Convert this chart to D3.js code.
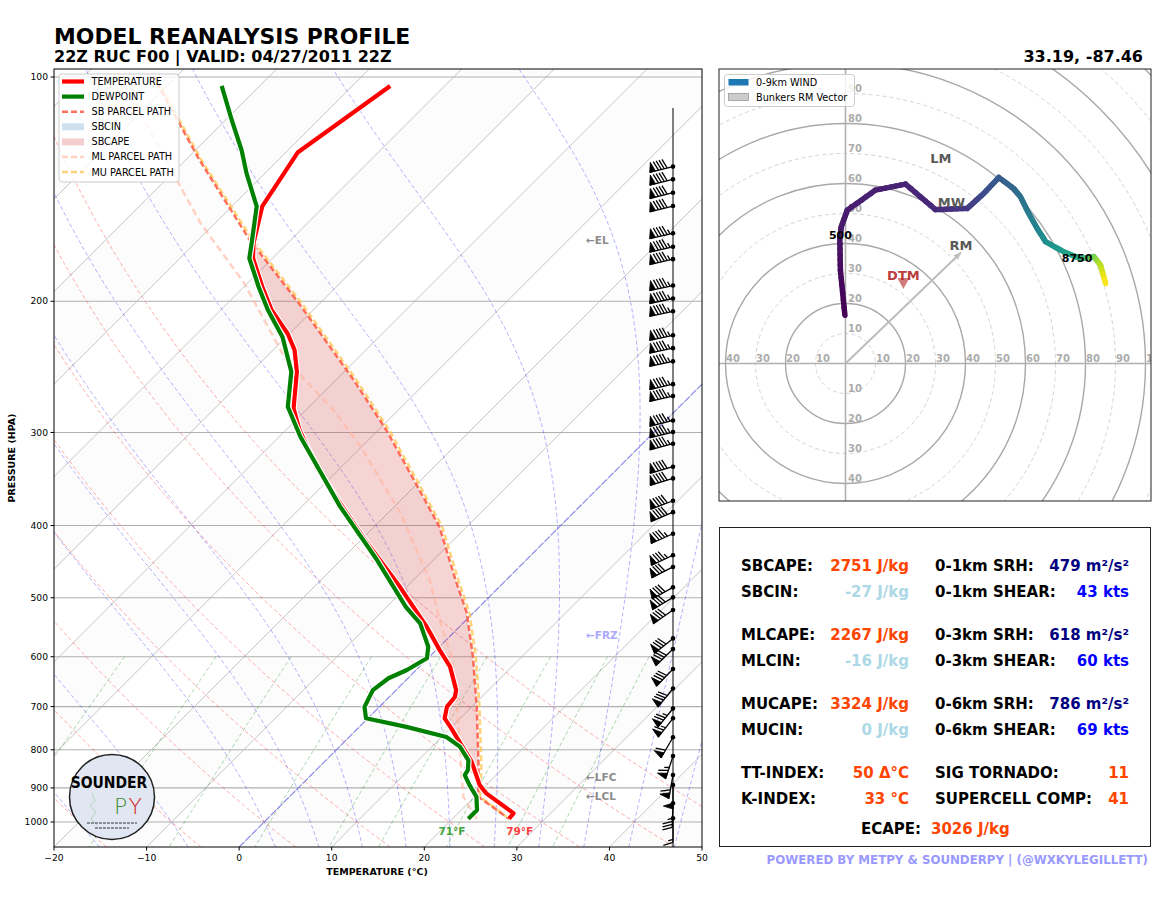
<!DOCTYPE html>
<html><head><meta charset="utf-8">
<script src="https://cdn.jsdelivr.net/npm/d3@7/dist/d3.min.js"></script>
<style>
html,body{margin:0;padding:0;background:#fff;}
svg{display:block;}
text{font-family:"DejaVu Sans",sans-serif;}
</style></head>
<body>
<svg id="chart" width="1175" height="916"></svg>
<script>
// ================= DATA =================
const pressureTicks = [100,200,300,400,500,600,700,800,900,1000];
const temperatureTicks = [-20,-10,0,10,20,30,40,50];

// Environmental temperature profile (hPa, °C)
const tempP = [990,973.5,915.2,892.2,830.0,784.1,748.6,725.8,700.5,679.6,665.3,618.7,587.9,547.2,483.8,422.3,379.4,333.8,297.9,278.5,248.7,232.5,221.1,205.5,190.9,175.1,167.0,149.2,126.3,102.8];
const tempT = [26.1,26.0,20.9,19.3,15.9,12.7,10.1,8.3,7.3,7.1,6.5,3.3,0.4,-3.5,-10.7,-19.0,-25.3,-32.7,-38.5,-41.5,-45.1,-47.7,-50.2,-54.5,-58.1,-62.1,-63.7,-66.7,-68.7,-65.9];

// Dewpoint profile (hPa, °C)
const dewP = [990,963.6,924.8,892.2,864.9,851.8,826.3,792.1,768.8,745.3,725.8,700.5,665.3,641.2,625.1,602.9,581.8,541.3,514.6,445.0,377.0,304.0,277.1,248.7,223.4,205.5,190.9,175.1,167.0,149.2,134.6,125.4,114.3,102.8];
const dewT = [21.7,21.7,20.2,18.2,16.6,16.4,15.4,13.0,10.5,5.1,-0.2,-1.6,-2.5,-2.1,-1.0,-0.1,-1.2,-4.6,-7.9,-16.1,-25.9,-37.7,-42.3,-45.7,-50.4,-54.9,-58.5,-62.5,-63.9,-67.3,-72.0,-75.0,-79.3,-84.1];

// Parcel paths (hPa, °C)
const sbParcelP = [990,925,843,700,600,524,474,402,359,298,280,255,201.5,165,129,115.5,100];
const sbParcelT = [26.1,20.4,17.2,10.5,4.7,-0.7,-5.4,-12.9,-19.0,-29.1,-32.7,-38.1,-52.2,-64.6,-78.6,-84.6,-92.4];
const muParcelP = [990,925,843,700,600,524,474,402,359,298,280,255,201.5,165,129,115.5,100];
const muParcelT = [26.1,20.6,17.5,10.8,5.0,-0.4,-5.1,-12.6,-18.7,-28.8,-32.4,-37.8,-51.9,-64.3,-78.4,-84.4,-92.2];
const mlParcelP = [990,925,878,700,600,540,474,384.5,313,280,240,189,157,100];
const mlParcelT = [22.6,18.8,16.8,8.4,2.4,-2.5,-8.2,-18.7,-30.2,-37.0,-47.5,-60.4,-71.6,-96.0];

// Level markers
const levelNames = ["LCL","LFC","EL","FRZ"];
const levelP = [922.7,870.0,165.5,561.7];
const surfaceLabels = ["71°F","79°F"];

// Wind barbs (hPa, direction deg, speed kt)
const barbP = [988.6,943.8,892.1,864.9,815.7,769.5,725.8,704.1,661.9,623.3,586.0,567.0,519.4,499.4,484.2,454.6,438.5,410.3,383.8,370.5,345.8,333.5,310.6,299.6,289.1,268.1,258.4,240.8,231.2,222.2,206.3,198.3,190.5,175.6,169.0,162.1,149.0,143.0,137.2,131.9];
const barbDir = [180,182,180,190,198,210,218,219,219,224,226,231,235,239,241,243,245,246,247,249,253,254,255,256,256,257,257,258,258,258,258,258,258,257,257,257,256,256,256,256];
const barbSpd = [15,35,50,58,63,59,66,73,80,81,80,79,78,78,80,82,85,86,90,91,91,92,93,94,95,96,96,97,97,96,96,95,95,94,93,93,92,91,90,90];

// Hodograph (height m AGL, u kt, v kt)
const hodoH = [0,200,500,600,700,800,900,1000,1500,2000,2500,3000,3300,3700,4000,4400,5000,5600,7000,8000,9000];
const hodoU = [-0.2,-1.7,-1.9,-1.4,0.6,10,20,30,40.6,46.1,51.1,56.1,58.3,61.1,63.9,66.7,72.8,78.3,82.8,85.0,86.7];
const hodoV = [16.1,31.1,41.7,45.6,51.1,57.8,59.8,51.3,51.7,56.7,62.0,58.3,55.6,50.0,45.0,40.6,37.2,35.0,35.6,32.8,26.7];
const hodoLabelText = ["500","8750"];
const hodoLabelU = [-1.7,77.2];
const hodoLabelV = [42.8,35.0];
const stormNames = ["LM","MW","RM"];
const stormU = [31.8,35.3,38.5];
const stormV = [67.0,52.5,38.0];
const dtmU = 19.3, dtmV = 26.8;
const hodoTickSpeeds = [10,20,30,40,50,60,70,80,90,100,110,120,130,140];

// Background thermodynamic reference lines (starting values)
const dryAdiabatT0 = [-20,-10,0,10,20,30,40,50];
const moistAdiabatT0 = [-20,-10,0,5,10,15,20,25,30,35,40,45,50];
const mixingRatios = [0.0004,0.001,0.002,0.004,0.007,0.01,0.016,0.024,0.032];
const shadeBandStart = [-100,-80,-60,-40,-20,0,20,40];
const isothermValues = [-160,-150,-140,-130,-120,-110,-100,-90,-80,-70,-60,-50,-40,-30,-20,-10,0,10,20,30,40,50];

// Parameter table
const statLeftLabels = ["SBCAPE:","SBCIN:","MLCAPE:","MLCIN:","MUCAPE:","MUCIN:","TT-INDEX:","K-INDEX:"];
const statLeftValues = ["2751 J/kg","-27 J/kg","2267 J/kg","-16 J/kg","3324 J/kg","0 J/kg","50 Δ°C","33 °C"];
const statRightLabels = ["0-1km SRH:","0-1km SHEAR:","0-3km SRH:","0-3km SHEAR:","0-6km SRH:","0-6km SHEAR:","SIG TORNADO:","SUPERCELL COMP:"];
const statRightValues = ["479 m²/s²","43 kts","618 m²/s²","60 kts","786 m²/s²","69 kts","11","41"];
const ecapeLabel = "ECAPE:", ecapeValue = "3026 J/kg";

// ================= STYLE / LAYOUT =================
const statLeftColors = ["#ff4500","#add8e6","#ff4500","#add8e6","#ff4500","#add8e6","#ff4500","#ff4500"];
const statRightColors = ["#000080","#0000ff","#000080","#0000ff","#000080","#0000ff","#ff4500","#ff4500"];

const svg = d3.select("#chart");
const AX = {x:54, y:69, w:648, h:778};
const yScale = d3.scaleLog().domain([1000,100]).range([822,77]);
const xScale = d3.scaleLinear().domain([-20,50]).range([AX.x, AX.x+AX.w]);
const SKEW = 1.0;
const yBot = AX.y + AX.h, yTop = AX.y;
const pBot = yScale.invert(yBot), pTop = yScale.invert(yTop);
const skewX = (T,p) => xScale(T) + (yBot - yScale(p))*SKEW;

const defs = svg.append("defs");
defs.append("clipPath").attr("id","skewClip").append("rect").attr("x",AX.x).attr("y",AX.y).attr("width",AX.w).attr("height",AX.h);
const HX = {x:719, y:69, w:432, h:432};
defs.append("clipPath").attr("id","hodoClip").append("rect").attr("x",HX.x).attr("y",HX.y).attr("width",HX.w).attr("height",HX.h);

const line = d3.line().x(d=>skewX(d.T,d.p)).y(d=>yScale(d.p));
const zip = (P,T) => P.map((p,i)=>({p:p,T:T[i]}));
const logPs = n => d3.range(n+1).map(i => pBot*Math.pow(pTop/pBot, i/n));

// ----- thermodynamics for reference lines -----
const RD=287.04749, CPD=1004.6662, LV=2.50084e6, EPS=0.6219569, KAPPA=RD/CPD;
const satVap = Tk => { const c=Tk-273.15; return 6.112*Math.exp(17.67*c/(c+243.5)); };
const satMix = (p,Tk) => { const e=satVap(Tk); return EPS*e/(p-e); };
const moistGrad = (p,Tk) => { const r=satMix(p,Tk); return ((RD*Tk+LV*r)/(CPD+(LV*LV*r*EPS)/(RD*Tk*Tk)))/p; };
function integrateMoist(T0,p0,p1,steps){
  let T=T0+273.15, p=p0; const h=(p1-p0)/steps; const out=[{p:p,T:T0}];
  for(let i=0;i<steps;i++){
    const k1=moistGrad(p,T), k2=moistGrad(p+h/2,T+h/2*k1), k3=moistGrad(p+h/2,T+h/2*k2), k4=moistGrad(p+h,T+h*k3);
    T+=h/6*(k1+2*k2+2*k3+k4); p+=h; out.push({p:p,T:T-273.15});
  }
  return out;
}

// ================= SKEW-T =================
const sk = svg.append("g").attr("clip-path","url(#skewClip)");

// alternating isotherm shading
shadeBandStart.forEach(a=>{
  const b=a+10;
  const pts=[[skewX(a,pBot),yBot],[skewX(b,pBot),yBot],[skewX(b,pTop),yTop],[skewX(a,pTop),yTop]];
  sk.append("polygon").attr("points",pts.map(d=>d.join(",")).join(" ")).attr("fill","#808080").attr("opacity",0.022);
});

// isotherm grid
isothermValues.forEach(T=>{
  sk.append("line").attr("x1",skewX(T,pBot)).attr("y1",yBot).attr("x2",skewX(T,pTop)).attr("y2",yTop)
    .attr("stroke","#bdbdbd").attr("stroke-width",0.9);
});
// pressure grid
pressureTicks.forEach(p=>{
  sk.append("line").attr("x1",AX.x).attr("x2",AX.x+AX.w).attr("y1",yScale(p)).attr("y2",yScale(p))
    .attr("stroke","#b0b0b0").attr("stroke-width",1.1);
});

// dry adiabats
const pAll = logPs(120);
dryAdiabatT0.forEach(t0=>{
  const pts=pAll.map(p=>({p:p,T:(t0+273.15)*Math.pow(p/1000,KAPPA)-273.15}));
  sk.append("path").attr("d",line(pts)).attr("fill","none").attr("stroke","red").attr("stroke-opacity",0.32)
    .attr("stroke-width",1).attr("stroke-dasharray","4,2.5");
});
// moist adiabats
moistAdiabatT0.forEach(t0=>{
  const down=integrateMoist(t0,1000,pBot+1,20).reverse();
  const up=integrateMoist(t0,1000,pTop-1,300);
  const pts=down.concat(up.slice(1));
  sk.append("path").attr("d",line(pts)).attr("fill","none").attr("stroke","blue").attr("stroke-opacity",0.3)
    .attr("stroke-width",1).attr("stroke-dasharray","4,2.5");
});
// mixing ratio lines (600 hPa to bottom)
mixingRatios.forEach(w=>{
  const pts=d3.range(0,41).map(i=>{ const p=600+(pBot+1-600)*i/40; const e=p*w/(EPS+w); const l=Math.log(e/6.112); return {p:p,T:243.5*l/(17.67-l)}; });
  sk.append("path").attr("d",line(pts)).attr("fill","none").attr("stroke","green").attr("stroke-opacity",0.32)
    .attr("stroke-width",1).attr("stroke-dasharray","4,2.5");
});
// 0°C isotherm highlight
sk.append("line").attr("x1",skewX(0,pBot)).attr("y1",yBot).attr("x2",skewX(0,pTop)).attr("y2",yTop)
  .attr("stroke","#4d4dff").attr("stroke-opacity",0.6).attr("stroke-width",1.1).attr("stroke-dasharray","7,2");

// CAPE shading
function interpLogP(P,T,p){
  for(let i=0;i<P.length-1;i++){
    if(p<=P[i] && p>=P[i+1]){ const f=(Math.log(p)-Math.log(P[i]))/(Math.log(P[i+1])-Math.log(P[i])); return T[i]+f*(T[i+1]-T[i]); }
  }
  return NaN;
}
const lfcP=levelP[1], elP=levelP[2];
const capePts=[{p:lfcP,T:interpLogP(sbParcelP,sbParcelT,lfcP)}];
sbParcelP.forEach((p,i)=>{ if(p<lfcP && p>elP) capePts.push({p:p,T:sbParcelT[i]}); });
capePts.push({p:elP,T:interpLogP(sbParcelP,sbParcelT,elP)});
capePts.push({p:elP,T:interpLogP(tempP,tempT,elP)});
const envIn=[]; tempP.forEach((p,i)=>{ if(p<lfcP && p>elP) envIn.push({p:p,T:tempT[i]}); });
envIn.reverse().forEach(d=>capePts.push(d));
capePts.push({p:lfcP,T:interpLogP(tempP,tempT,lfcP)});
sk.append("path").attr("d",line(capePts)+"Z").attr("fill","#d62728").attr("fill-opacity",0.2).attr("stroke","none");

// parcel paths
sk.append("path").attr("d",line(zip(mlParcelP,mlParcelT))).attr("fill","none").attr("stroke","#ffb49c")
  .attr("stroke-opacity",0.6).attr("stroke-width",2.5).attr("stroke-dasharray","7,4");
sk.append("path").attr("d",line(zip(muParcelP,muParcelT))).attr("fill","none").attr("stroke","#ffc44d")
  .attr("stroke-opacity",0.75).attr("stroke-width",2.5).attr("stroke-dasharray","6,3");
sk.append("path").attr("d",line(zip(sbParcelP,sbParcelT))).attr("fill","none").attr("stroke","#ff4d33")
  .attr("stroke-opacity",0.8).attr("stroke-width",2.5).attr("stroke-dasharray","6,3").attr("stroke-dashoffset",3);

// temperature & dewpoint
[[tempP,tempT,"red"],[dewP,dewT,"green"]].forEach(([P,T,c])=>{
  const d=line(zip(P,T));
  sk.append("path").attr("d",d).attr("fill","none").attr("stroke","#fff").attr("stroke-width",6.5).attr("stroke-linejoin","round");
  sk.append("path").attr("d",d).attr("fill","none").attr("stroke",c).attr("stroke-width",4.2).attr("stroke-linejoin","round");
});

// level labels
const levelColors = {LCL:"#8c8c8c",LFC:"#8c8c8c",EL:"#8c8c8c",FRZ:"#a9a9ff"};
levelNames.forEach((n,i)=>{
  sk.append("text").attr("x",586).attr("y",yScale(levelP[i])).attr("dy","0.36em")
    .attr("font-size",10.5).attr("font-weight","bold").attr("fill",levelColors[n]).text("\u2190"+n);
});

// surface labels
const sfcP = 1000;
sk.append("text").attr("x",skewX(dewT[0],sfcP)-13).attr("y",831).attr("dy","0.36em").attr("text-anchor","middle")
  .attr("font-size",10.5).attr("font-weight","bold").attr("fill","#3fa53f").text(surfaceLabels[0]);
sk.append("text").attr("x",skewX(tempT[0],sfcP)+14).attr("y",831).attr("dy","0.36em").attr("text-anchor","middle")
  .attr("font-size",10.5).attr("font-weight","bold").attr("fill","#ff4040").text(surfaceLabels[1]);

// wind barbs
const barbX = 673;
sk.append("line").attr("x1",barbX).attr("x2",barbX).attr("y1",108).attr("y2",yBot).attr("stroke","#000").attr("stroke-width",1);
const bg = sk.append("g");
function drawBarb(x,y,dirDeg,spd){
  const L=24, sp=L*0.125, fh=L*0.4, fw=L*0.25;
  const r=dirDeg*Math.PI/180;
  const d=[Math.sin(r),-Math.cos(r)], n=[Math.cos(r),Math.sin(r)];
  const P=(s,h)=>[x+d[0]*s+n[0]*(h||0), y+d[1]*s+n[1]*(h||0)];
  let mag=5*Math.round(spd/5);
  const nf=Math.floor(mag/50); mag-=nf*50;
  const nb=Math.floor(mag/10); mag-=nb*10;
  const half=mag>=5;
  const s0=P(0), s1=P(L);
  bg.append("line").attr("x1",s0[0]).attr("y1",s0[1]).attr("x2",s1[0]).attr("y2",s1[1]).attr("stroke","#000").attr("stroke-width",1.3);
  let off=L;
  for(let i=0;i<nf;i++){
    if(off!==L) off+=sp/2;
    const pts=[P(off),P(off-fw/2,fh),P(off-fw)];
    bg.append("polygon").attr("points",pts.map(q=>q.join(",")).join(" ")).attr("fill","#000").attr("stroke","#000").attr("stroke-width",0.8);
    off-=fw+sp;
  }
  for(let i=0;i<nb;i++){
    const a=P(off), b=P(off+fw/2,fh);
    bg.append("line").attr("x1",a[0]).attr("y1",a[1]).attr("x2",b[0]).attr("y2",b[1]).attr("stroke","#000").attr("stroke-width",1.3);
    off-=sp;
  }
  if(half){
    if(off===L) off-=1.5*sp;
    const a=P(off), b=P(off+fw/4,fh/2);
    bg.append("line").attr("x1",a[0]).attr("y1",a[1]).attr("x2",b[0]).attr("y2",b[1]).attr("stroke","#000").attr("stroke-width",1.3);
  }
  bg.append("circle").attr("cx",x).attr("cy",y).attr("r",2.3).attr("fill","#000");
}
barbP.forEach((p,i)=>drawBarb(barbX,yScale(p),barbDir[i],barbSpd[i]));

// logo
const logo = svg.append("g");
logo.append("circle").attr("cx",112).attr("cy",797).attr("r",42.5).attr("fill","#e0e6f2").attr("stroke","#222").attr("stroke-width",1.5);
logo.append("path").attr("d","M92,793 L95,801 L90,806 L96,812 L91,819 L97,825").attr("fill","none").attr("stroke","#6cbf6c").attr("stroke-opacity",0.5).attr("stroke-width",0.8);
logo.append("text").attr("x",109).attr("y",788).attr("text-anchor","middle").attr("font-size",15.5).attr("font-weight","bold")
  .attr("font-family","'DejaVu Sans Condensed','DejaVu Sans',sans-serif").attr("font-stretch","condensed").attr("fill","#000").text("SOUNDER");
logo.append("text").attr("x",114).attr("y",814).attr("font-size",22).attr("font-family","'DejaVu Sans',sans-serif").attr("font-weight","300").attr("fill","#3d8b2a").text("P");
logo.append("text").attr("x",128.5).attr("y",814).attr("font-size",22).attr("font-family","'DejaVu Sans',sans-serif").attr("font-weight","300").attr("fill","#d42020").text("Y");
logo.append("line").attr("x1",87).attr("x2",137).attr("y1",823).attr("y2",823).attr("stroke","#333").attr("stroke-width",1.2).attr("stroke-dasharray","3,1");
logo.append("line").attr("x1",95).attr("x2",129).attr("y1",828).attr("y2",828).attr("stroke","#333").attr("stroke-width",1.2).attr("stroke-dasharray","3,1");

// axes frame & ticks
svg.append("rect").attr("x",AX.x).attr("y",AX.y).attr("width",AX.w).attr("height",AX.h).attr("fill","none").attr("stroke","#000").attr("stroke-width",1);
pressureTicks.forEach(p=>{
  const y=yScale(p);
  svg.append("line").attr("x1",AX.x-3.5).attr("x2",AX.x).attr("y1",y).attr("y2",y).attr("stroke","#000");
  svg.append("text").attr("x",AX.x-6).attr("y",y).attr("dy","0.35em").attr("text-anchor","end").attr("font-size",9.2).attr("fill","#000").text(p);
});
temperatureTicks.forEach(t=>{
  const x=xScale(t);
  svg.append("line").attr("x1",x).attr("x2",x).attr("y1",yBot).attr("y2",yBot+3.5).attr("stroke","#000");
  svg.append("text").attr("x",x).attr("y",yBot+11).attr("dy","0.35em").attr("text-anchor","middle").attr("font-size",9.2).attr("fill","#000").text(t<0?"\u2212"+(-t):t);
});
svg.append("text").attr("x",377).attr("y",872).attr("dy","0.35em").attr("text-anchor","middle").attr("font-size",9.5).attr("font-weight","bold").text("TEMPERATURE (°C)");
svg.append("text").attr("transform","translate(12,458) rotate(-90)").attr("dy","0.35em").attr("text-anchor","middle").attr("font-size",9.5).attr("font-weight","bold").text("PRESSURE (HPA)");

// skew-T legend
const lg = svg.append("g");
lg.append("rect").attr("x",59).attr("y",74).attr("width",120).attr("height",108).attr("rx",3).attr("fill","#fff").attr("fill-opacity",0.82).attr("stroke","#cccccc");
const legendItems = [
  {t:"TEMPERATURE",type:"line",c:"red",w:4.2},
  {t:"DEWPOINT",type:"line",c:"green",w:4.2},
  {t:"SB PARCEL PATH",type:"dash",c:"#ff4d33",o:0.8},
  {t:"SBCIN",type:"patch",c:"#cfe0ee"},
  {t:"SBCAPE",type:"patch",c:"#f5cfcf"},
  {t:"ML PARCEL PATH",type:"dash",c:"#ffb49c",o:0.6},
  {t:"MU PARCEL PATH",type:"dash",c:"#ffc44d",o:0.75}
];
legendItems.forEach((it,i)=>{
  const y=81.5+i*15.1;
  if(it.type==="line") lg.append("line").attr("x1",62).attr("x2",84).attr("y1",y).attr("y2",y).attr("stroke",it.c).attr("stroke-width",it.w);
  else if(it.type==="dash") lg.append("line").attr("x1",62).attr("x2",84).attr("y1",y).attr("y2",y).attr("stroke",it.c).attr("stroke-opacity",it.o).attr("stroke-width",2.5).attr("stroke-dasharray","6,3");
  else lg.append("rect").attr("x",62).attr("y",y-3.5).attr("width",22).attr("height",7).attr("fill",it.c);
  lg.append("text").attr("x",91.5).attr("y",y).attr("dy","0.36em").attr("font-size",9.7).attr("fill","#000").text(it.t);
});

// ================= HODOGRAPH =================
const HC = {x:845.5, y:363.5};
const hx = d3.scaleLinear().domain([0,10]).range([HC.x, HC.x+30]);
const hy = d3.scaleLinear().domain([0,10]).range([HC.y, HC.y-30]);
const hg = svg.append("g").attr("clip-path","url(#hodoClip)");
hg.append("rect").attr("x",HX.x).attr("y",HX.y).attr("width",HX.w).attr("height",HX.h).attr("fill","#fff");
hodoTickSpeeds.forEach((s,i)=>{
  const solid = s%20===0;
  hg.append("circle").attr("cx",HC.x).attr("cy",HC.y).attr("r",hx(s)-HC.x).attr("fill","none")
    .attr("stroke",solid?"#a8a8a8":"#d4d4d4").attr("stroke-width",solid?1.4:1).attr("stroke-dasharray",solid?null:"4,3");
});
hg.append("line").attr("x1",HX.x).attr("x2",HX.x+HX.w).attr("y1",HC.y).attr("y2",HC.y).attr("stroke","#b0b0b0").attr("stroke-width",1.6);
hg.append("line").attr("x1",HC.x).attr("x2",HC.x).attr("y1",HX.y).attr("y2",HX.y+HX.h).attr("stroke","#b0b0b0").attr("stroke-width",1.6);
// ring labels along the axes (only those that fall inside the panel)
hodoTickSpeeds.forEach(s=>{
  [1,-1].forEach(sg=>{
    const lx=hx(sg*s)+0.5;
    if(lx>=HX.x+2 && lx<=HX.x+HX.w-4)
      hg.append("text").attr("x",lx).attr("y",HC.y-5).attr("dy","0.36em").attr("font-size",10).attr("font-weight","bold").attr("fill","#acacac").text(s);
    const ly=hy(sg*s)-5;
    if(ly>=HX.y+6 && ly<=HX.y+HX.h-6)
      hg.append("text").attr("x",HC.x+2.5).attr("y",ly).attr("dy","0.36em").attr("font-size",10).attr("font-weight","bold").attr("fill","#acacac").text(s);
  });
});
// RM vector arrow
const rmX=hx(stormU[2]), rmY=hy(stormV[2])+3;
const ang=Math.atan2(rmY-HC.y, rmX-HC.x);
hg.append("line").attr("x1",HC.x).attr("y1",HC.y).attr("x2",rmX).attr("y2",rmY).attr("stroke","#bdbdbd").attr("stroke-width",2);
const ah=[[rmX,rmY],[rmX-8*Math.cos(ang-0.4),rmY-8*Math.sin(ang-0.4)],[rmX-8*Math.cos(ang+0.4),rmY-8*Math.sin(ang+0.4)]];
hg.append("polygon").attr("points",ah.map(q=>q.join(",")).join(" ")).attr("fill","#bdbdbd");
// hodograph trace
for(let i=0;i<hodoU.length-1;i++){
  const sub=6;
  for(let k=0;k<sub;k++){
    const f0=k/sub, f1=(k+1)/sub;
    const u0=hodoU[i]+(hodoU[i+1]-hodoU[i])*f0, v0=hodoV[i]+(hodoV[i+1]-hodoV[i])*f0;
    const u1=hodoU[i]+(hodoU[i+1]-hodoU[i])*f1, v1=hodoV[i]+(hodoV[i+1]-hodoV[i])*f1;
    const h=hodoH[i]+(hodoH[i+1]-hodoH[i])*(f0+f1)/2;
    hg.append("line").attr("x1",hx(u0)).attr("y1",hy(v0)).attr("x2",hx(u1)).attr("y2",hy(v1))
      .attr("stroke",d3.interpolateViridis(h/9000)).attr("stroke-width",5.5).attr("stroke-linecap","round");
  }
}
hodoLabelText.forEach((t,i)=>{
  hg.append("text").attr("x",hx(hodoLabelU[i])).attr("y",hy(hodoLabelV[i])).attr("dy","0.36em").attr("text-anchor","middle")
    .attr("font-size",11).attr("font-weight","bold").attr("fill","#000").text(t);
});
stormNames.forEach((n,i)=>{
  hg.append("text").attr("x",hx(stormU[i])).attr("y",hy(stormV[i])-4).attr("dy","0.36em").attr("text-anchor","middle")
    .attr("font-size",13).attr("font-weight","bold").attr("fill","#5a5a5a").text(n);
});
const dx=hx(dtmU), dy=hy(dtmV);
hg.append("polygon").attr("points",[[dx-6,dy-5],[dx+6,dy-5],[dx,dy+6]].map(q=>q.join(",")).join(" ")).attr("fill","#c0504d").attr("fill-opacity",0.75);
hg.append("text").attr("x",dx).attr("y",dy-8).attr("dy","0.36em").attr("text-anchor","middle").attr("font-size",13).attr("font-weight","bold").attr("fill","#b22222").attr("fill-opacity",0.9).text("DTM");
// hodograph legend
const hl = svg.append("g");
hl.append("rect").attr("x",724.5).attr("y",74.5).attr("width",130).attr("height",32).attr("rx",3).attr("fill","#fff").attr("fill-opacity",0.82).attr("stroke","#cccccc");
hl.append("rect").attr("x",728.5).attr("y",79).attr("width",20).attr("height",6.5).attr("fill","#1f77b4");
hl.append("text").attr("x",756).attr("y",82.3).attr("dy","0.36em").attr("font-size",9.7).text("0-9km WIND");
hl.append("rect").attr("x",728.5).attr("y",93.5).attr("width",20).attr("height",7).attr("fill","#cccccc").attr("stroke","#999").attr("stroke-width",0.8);
hl.append("text").attr("x",756).attr("y",97.3).attr("dy","0.36em").attr("font-size",9.7).text("Bunkers RM Vector");
svg.append("rect").attr("x",HX.x).attr("y",HX.y).attr("width",HX.w).attr("height",HX.h).attr("fill","none").attr("stroke","#222").attr("stroke-width",1);

// ================= PARAMETER TABLE =================
svg.append("rect").attr("x",719.5).attr("y",527.5).attr("width",431).attr("height",319).attr("fill","#fff").attr("stroke","#222").attr("stroke-width",1);
const rowY = i => 566 + Math.floor(i/2)*69 + (i%2)*25.5;
statLeftLabels.forEach((t,i)=>{
  const y=rowY(i);
  svg.append("text").attr("x",741).attr("y",y).attr("dy","0.36em").attr("font-size",15).attr("font-weight","bold").attr("fill","#000").text(t);
  svg.append("text").attr("x",909).attr("y",y).attr("dy","0.36em").attr("text-anchor","end").attr("font-size",15).attr("font-weight","bold").attr("fill",statLeftColors[i]).text(statLeftValues[i]);
  svg.append("text").attr("x",935).attr("y",y).attr("dy","0.36em").attr("font-size",15).attr("font-weight","bold").attr("fill","#000").text(statRightLabels[i]);
  svg.append("text").attr("x",1129).attr("y",y).attr("dy","0.36em").attr("text-anchor","end").attr("font-size",15).attr("font-weight","bold").attr("fill",statRightColors[i]).text(statRightValues[i]);
});
svg.append("text").attr("x",921).attr("y",829).attr("dy","0.36em").attr("text-anchor","end").attr("font-size",15).attr("font-weight","bold").attr("fill","#000").text(ecapeLabel);
svg.append("text").attr("x",931).attr("y",829).attr("dy","0.36em").attr("font-size",15).attr("font-weight","bold").attr("fill","#ff4500").text(ecapeValue);

// ================= TITLES =================
svg.append("text").attr("x",54).attr("y",44).attr("font-size",21.9).attr("font-weight","bold").attr("fill","#000").text("MODEL REANALYSIS PROFILE");
svg.append("text").attr("x",54).attr("y",62).attr("font-size",16).attr("font-weight","bold").attr("fill","#000").text("22Z RUC F00 | VALID: 04/27/2011 22Z");
svg.append("text").attr("x",1143).attr("y",62).attr("text-anchor","end").attr("font-size",16).attr("font-weight","bold").attr("fill","#000").text("33.19, -87.46");
svg.append("text").attr("x",1148).attr("y",860).attr("dy","0.36em").attr("text-anchor","end").attr("font-size",11.8).attr("font-weight","bold").attr("fill","#9999ff").text("POWERED BY METPY & SOUNDERPY | (@WXKYLEGILLETT)");
</script>
</body></html>
